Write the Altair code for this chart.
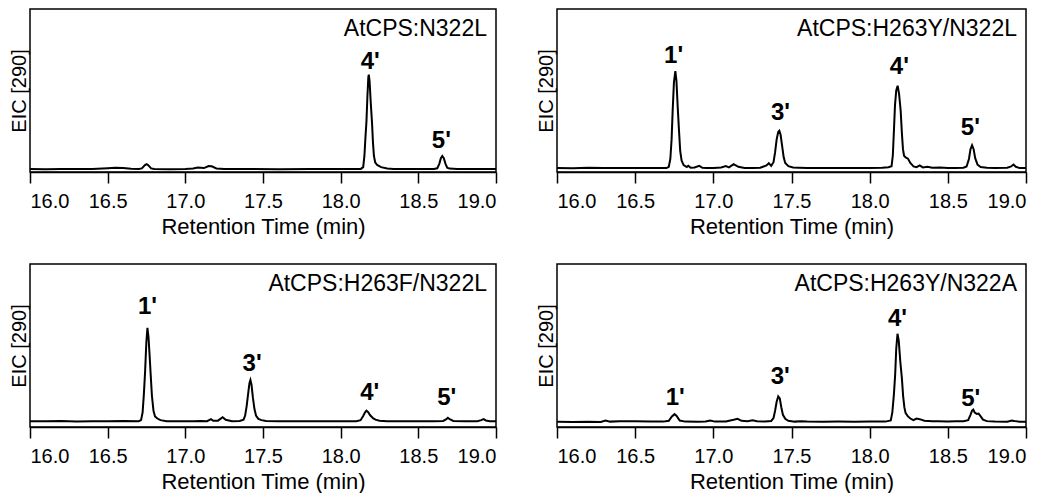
import altair as alt
import pandas as pd

# ---------------- data ----------------
# Panel 1: AtCPS:N322L
t_n322l = [16.00, 16.10, 16.20, 16.30, 16.40, 16.50, 16.55, 16.60, 16.65, 16.70,
           16.72, 16.74, 16.75, 16.76, 16.78, 16.80, 16.90, 17.00, 17.05, 17.08,
           17.10, 17.12, 17.15, 17.17, 17.20, 17.25, 17.40, 17.60, 17.80, 18.00,
           18.10, 18.13, 18.145, 18.153, 18.160, 18.166, 18.172, 18.178, 18.181, 18.186,
           18.194, 18.202, 18.208, 18.214, 18.222, 18.235, 18.26, 18.30, 18.34, 18.40,
           18.50, 18.60, 18.622, 18.635, 18.645, 18.654, 18.664, 18.675, 18.686, 18.70,
           18.75, 18.85, 19.00]
v_n322l = [1.8, 1.7, 1.9, 1.8, 1.9, 2.3, 2.6, 2.5, 2.0, 1.9,
           2.2, 4.3, 4.8, 4.2, 2.2, 1.8, 1.7, 1.8, 2.1, 2.8,
           2.6, 2.4, 3.6, 3.5, 2.2, 1.8, 1.8, 1.7, 1.8, 1.8,
           1.8, 1.9, 3.0, 10.0, 22.0, 31.0, 46.0, 58.0, 59.7, 56.0,
           42.0, 30.0, 18.0, 10.0, 6.0, 4.3, 3.0, 2.2, 1.9, 1.9,
           1.8, 1.9, 2.3, 5.0, 8.5, 9.8, 8.4, 5.0, 2.6, 2.1,
           1.9, 1.8, 1.8]
lab_n322l = ["4'", "5'"]
labt_n322l = [18.19, 18.648]
labv_n322l = [62.9, 14.8]

# Panel 2: AtCPS:H263Y/N322L
t_y_n322l = [16.00, 16.10, 16.20, 16.30, 16.40, 16.50, 16.60, 16.70, 16.715, 16.725,
             16.733, 16.740, 16.748, 16.757, 16.764, 16.772, 16.780, 16.788, 16.797, 16.81,
             16.83, 16.84, 16.855, 16.88, 16.91, 16.93, 16.96, 17.00, 17.05, 17.08,
             17.10, 17.13, 17.16, 17.20, 17.25, 17.30, 17.34, 17.355, 17.37, 17.385,
             17.395, 17.405, 17.415, 17.422, 17.43, 17.44, 17.45, 17.46, 17.48, 17.51,
             17.55, 17.60, 17.70, 17.80, 17.90, 18.00, 18.08, 18.12, 18.14, 18.148,
             18.155, 18.162, 18.170, 18.179, 18.188, 18.198, 18.206, 18.213, 18.22, 18.23,
             18.245, 18.26, 18.28, 18.30, 18.32, 18.34, 18.37, 18.40, 18.45, 18.50,
             18.55, 18.60, 18.62, 18.635, 18.645, 18.655, 18.665, 18.675, 18.69, 18.71,
             18.75, 18.80, 18.88, 18.905, 18.92, 18.935, 18.96, 19.00]
v_y_n322l = [2.4, 2.3, 2.6, 2.4, 2.5, 2.4, 2.5, 2.4, 3.2, 8.0,
             20.0, 38.0, 55.0, 61.9, 56.0, 40.0, 26.0, 13.0, 7.0, 4.2,
             3.0, 3.8, 2.6, 2.8, 3.8, 2.6, 2.4, 2.5, 2.8, 3.6,
             2.8, 4.8, 3.2, 2.5, 2.4, 2.6, 4.0, 5.4, 3.8, 6.0,
             12.0, 20.0, 24.5, 25.3, 23.0, 16.0, 9.0, 5.5, 3.6, 2.8,
             2.6, 2.4, 2.5, 2.4, 2.5, 2.4, 2.6, 2.9, 3.5, 10.0,
             25.0, 41.0, 50.0, 52.9, 48.0, 38.0, 24.0, 14.0, 10.0, 9.0,
             8.2, 5.5, 3.4, 3.0, 4.0, 2.8, 3.2, 2.6, 2.8, 2.5,
             2.5, 2.6, 3.4, 8.0, 14.0, 16.4, 14.0, 8.5, 4.5, 3.0,
             2.6, 2.5, 2.6, 3.4, 4.6, 3.2, 2.4, 2.4]
lab_y_n322l = ["1'", "3'", "4'", "5'"]
labt_y_n322l = [16.746, 17.43, 18.19, 18.644]
labv_y_n322l = [66.9, 31.9, 59.9, 23.0]

# Panel 3: AtCPS:H263F/N322L
t_f_n322l = [16.00, 16.10, 16.20, 16.30, 16.40, 16.50, 16.60, 16.70, 16.715, 16.725,
             16.733, 16.741, 16.749, 16.756, 16.763, 16.770, 16.777, 16.785, 16.795, 16.805,
             16.82, 16.84, 16.88, 16.95, 17.00, 17.05, 17.10, 17.14, 17.165, 17.18,
             17.21, 17.24, 17.26, 17.30, 17.35, 17.375, 17.385, 17.395, 17.405, 17.413,
             17.419, 17.426, 17.435, 17.445, 17.455, 17.47, 17.49, 17.52, 17.60, 17.70,
             17.80, 17.90, 18.00, 18.10, 18.128, 18.145, 18.157, 18.166, 18.176, 18.19,
             18.21, 18.224, 18.25, 18.30, 18.40, 18.50, 18.60, 18.66, 18.678, 18.69,
             18.705, 18.725, 18.80, 18.88, 18.905, 18.92, 18.935, 18.96, 19.00]
v_f_n322l = [3.6, 3.5, 3.7, 3.4, 3.6, 3.5, 3.7, 3.6, 4.2, 9.0,
             20.0, 34.0, 52.0, 60.8, 55.0, 44.0, 32.0, 19.0, 10.0, 6.5,
             5.2, 4.2, 3.6, 3.5, 3.6, 3.5, 3.7, 3.6, 4.8, 3.8,
             3.9, 6.0, 4.4, 3.6, 3.7, 4.5, 7.0, 13.0, 21.0, 27.0,
             28.8, 26.0, 18.0, 11.0, 7.0, 5.0, 4.2, 3.7, 3.5, 3.6,
             3.5, 3.6, 3.5, 3.6, 4.2, 6.8, 9.0, 10.0, 9.2, 7.2,
             5.3, 4.5, 3.8, 3.6, 3.5, 3.6, 3.5, 3.7, 4.6, 5.6,
             4.6, 3.7, 3.6, 3.5, 4.2, 4.8, 4.0, 3.6, 3.6]
lab_f_n322l = ["1'", "3'", "4'", "5'"]
labt_f_n322l = [16.756, 17.43, 18.187, 18.683]
labv_f_n322l = [69.2, 34.4, 16.5, 13.5]

# Panel 4: AtCPS:H263Y/N322A
t_y_n322a = [16.00, 16.10, 16.20, 16.28, 16.31, 16.34, 16.40, 16.50, 16.60, 16.68,
             16.715, 16.735, 16.752, 16.765, 16.785, 16.82, 16.90, 16.95, 16.98, 17.01,
             17.08, 17.13, 17.155, 17.18, 17.22, 17.25, 17.28, 17.33, 17.37, 17.385,
             17.395, 17.405, 17.415, 17.425, 17.435, 17.445, 17.46, 17.48, 17.52, 17.56,
             17.60, 17.70, 17.80, 17.90, 18.00, 18.10, 18.135, 18.145, 18.155, 18.163,
             18.170, 18.178, 18.186, 18.196, 18.206, 18.214, 18.222, 18.23, 18.245, 18.26,
             18.28, 18.30, 18.32, 18.35, 18.40, 18.44, 18.50, 18.55, 18.60, 18.63,
             18.645, 18.655, 18.663, 18.672, 18.685, 18.697, 18.71, 18.725, 18.75, 18.80,
             18.88, 18.91, 18.93, 18.96, 19.00]
v_y_n322a = [3.2, 3.0, 3.2, 3.1, 4.0, 3.3, 3.5, 3.6, 3.4, 3.3,
             3.8, 6.5, 7.9, 6.8, 4.0, 3.3, 3.2, 3.4, 4.0, 3.3,
             3.4, 4.4, 5.0, 3.8, 3.6, 4.2, 3.5, 3.4, 3.7, 5.5,
             10.0, 15.5, 18.8, 17.5, 12.0, 7.5, 5.0, 3.8, 3.3, 3.6,
             3.3, 3.2, 3.3, 3.2, 3.3, 3.3, 4.0, 9.0, 20.0, 32.0,
             48.0, 57.2, 53.0, 40.0, 30.0, 19.0, 12.0, 8.5, 6.5, 5.2,
             4.2, 5.2, 4.8, 3.8, 3.6, 3.5, 3.3, 3.5, 3.6, 4.2,
             7.5, 10.1, 10.7, 8.8, 8.0, 8.2, 6.5, 4.5, 3.6, 3.3,
             3.2, 3.9, 3.6, 3.2, 3.2]
lab_y_n322a = ["1'", "3'", "4'", "5'"]
labt_y_n322a = [16.756, 17.428, 18.178, 18.646]
labv_y_n322a = [13.5, 26.3, 62.0, 12.9]

x_ticks = [16.0, 16.5, 17.0, 17.5, 18.0, 18.5, 19.0]

# ---------------- chart ----------------
W_LEFT, W_RIGHT, H = 466, 469, 163
FONT = "Liberation Sans"


def make_panel(name, ts, vs, labs, lts, lvs, width):
    trace = pd.DataFrame({"t": ts, "v": vs})
    peaks = pd.DataFrame({"label": labs, "t": lts, "v": lvs})
    xsc = alt.Scale(domain=[16, 19], nice=False, zero=False)
    ysc = alt.Scale(domain=[0, 100], nice=False, zero=False)
    line = alt.Chart(trace).mark_line(color="black", strokeWidth=2, clip=True).encode(
        x=alt.X("t:Q", scale=xsc,
                axis=alt.Axis(title="Retention Time (min)", values=x_ticks, format=".1f")),
        y=alt.Y("v:Q", scale=ysc,
                axis=alt.Axis(title="EIC [290]", labels=False, ticks=False, domain=False)),
    )
    txt = alt.Chart(peaks).mark_text(
        font=FONT, fontSize=24, fontWeight="bold", baseline="alphabetic", align="center",
        color="black",
    ).encode(x="t:Q", y="v:Q", text="label:N")
    ttl = alt.Chart(pd.DataFrame({"name": [name]})).mark_text(
        font=FONT, fontSize=23, align="right", baseline="alphabetic", color="black",
    ).encode(x=alt.value(width - 9), y=alt.value(27), text="name:N")
    return alt.layer(line, txt, ttl).properties(width=width, height=H)


p1 = make_panel("AtCPS:N322L", t_n322l, v_n322l, lab_n322l, labt_n322l, labv_n322l, W_LEFT)
p2 = make_panel("AtCPS:H263Y/N322L", t_y_n322l, v_y_n322l, lab_y_n322l, labt_y_n322l,
                labv_y_n322l, W_RIGHT)
p3 = make_panel("AtCPS:H263F/N322L", t_f_n322l, v_f_n322l, lab_f_n322l, labt_f_n322l,
                labv_f_n322l, W_LEFT)
p4 = make_panel("AtCPS:H263Y/N322A", t_y_n322a, v_y_n322a, lab_y_n322a, labt_y_n322a,
                labv_y_n322a, W_RIGHT)

row1 = alt.hconcat(p1, p2, spacing=37)
row2 = alt.hconcat(p3, p4, spacing=37)

chart = alt.vconcat(row1, row2, spacing=25).properties(
    padding={"left": 0, "top": 0, "right": 0, "bottom": 0},
    background="white",
).configure_view(
    stroke="black", strokeWidth=1.5
).configure_axis(
    grid=False, labelFont=FONT, titleFont=FONT, labelColor="black", titleColor="black",
    domainColor="black", tickColor="black", titleFontWeight="normal",
).configure_axisX(
    tickSize=11, tickWidth=1.5, domainWidth=1.5, labelFontSize=20, titleFontSize=22,
    labelPadding=8, titlePadding=5,
).configure_axisY(
    titleFontSize=20, titlePadding=1,
)

chart.save("out.html", embed_options={"renderer": "svg", "actions": False})
